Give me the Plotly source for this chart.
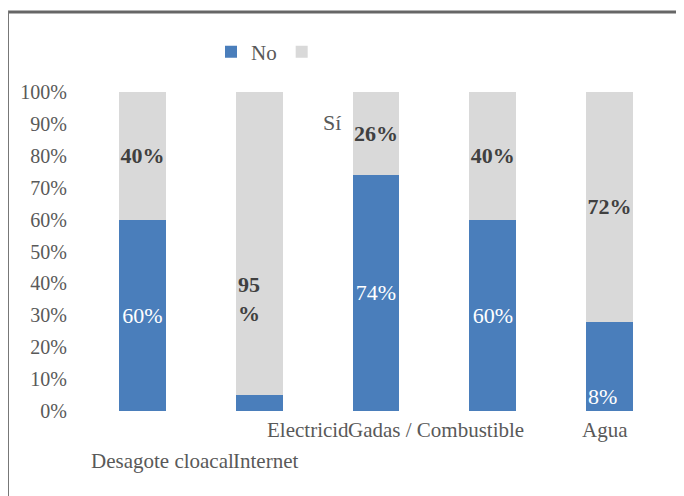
import plotly.graph_objects as go

categories = ["Desagote cloacal", "Internet", "Electricidad", "Gas / Combustible", "Agua"]
no_vals = [60, 5, 74, 60, 28]
si_vals = [40, 95, 26, 40, 72]
no_text = ["60%", "", "74%", "60%", ""]
si_text = ["40%", "", "26%", "40%", "72%"]
tick_vals = [0, 10, 20, 30, 40, 50, 60, 70, 80, 90, 100]
tick_text = [f"{v}%" for v in tick_vals]

BLUE = "#4A7EBB"
GREY = "#D9D9D9"
FONT = "Liberation Serif"
TXT = "#595959"

OFF = 8  # page body margin
W, H = 684 - OFF, 496 - OFF
L, R, T, B = 84 - OFF, 16, 92 - OFF, 85
pw, ph = W - L - R, H - T - B


def px(xs):  # screen x -> paper
    return (xs - OFF - L) / pw


def py(ys):  # screen y -> paper
    return (H + OFF - B - ys) / ph


fig = go.Figure()
fig.add_trace(go.Bar(
    x=categories, y=no_vals, name="No", marker=dict(color=BLUE, line=dict(width=0)),
    text=no_text, textposition="inside", insidetextanchor="middle", textangle=0,
    textfont=dict(family=FONT, size=22, color="white"), constraintext="none",
    hovertemplate="%{x}<br>No: %{y}%<extra></extra>",
))
fig.add_trace(go.Bar(
    x=categories, y=si_vals, name=" ", marker=dict(color=GREY, line=dict(width=0)),
    text=[f"<b>{t}</b>" if t else "" for t in si_text], textposition="inside",
    insidetextanchor="middle", textangle=0,
    textfont=dict(family=FONT, size=22, color="#404040"), constraintext="none",
    hovertemplate="%{x}<br>Sí: %{y}%<extra></extra>",
))

cat_font = dict(family=FONT, size=21, color=TXT)
annotations = [
    dict(text="Sí", x=px(332), y=py(122), xref="paper", yref="paper", showarrow=False,
         xanchor="center", yanchor="middle", font=dict(family=FONT, size=22, color=TXT)),
    dict(text="<b>95<br>%</b>", x=categories[1], y=35, xref="x", yref="y", showarrow=False,
         xanchor="left", yanchor="middle", xshift=-23, align="left",
         font=dict(family=FONT, size=22, color="#404040")),
    dict(text="8%", x=categories[4], y=0, xref="x", yref="y", showarrow=False,
         yanchor="bottom", xanchor="left", xshift=-24,
         font=dict(family=FONT, size=22, color="white")),
    dict(text="Electricid", x=px(265), y=py(430), xref="paper", yref="paper", showarrow=False,
         xanchor="left", yanchor="middle", font=cat_font),
    dict(text="Gadas / Combustible", x=px(346), y=py(430), xref="paper", yref="paper",
         showarrow=False, xanchor="left", yanchor="middle", font=cat_font),
    dict(text="Agua", x=px(580), y=py(430), xref="paper", yref="paper", showarrow=False,
         xanchor="left", yanchor="middle", font=cat_font),
    dict(text="Desagote cloacal", x=px(89), y=py(461), xref="paper", yref="paper",
         showarrow=False, xanchor="left", yanchor="middle", font=cat_font),
    dict(text="Internet", x=px(231), y=py(461), xref="paper", yref="paper", showarrow=False,
         xanchor="left", yanchor="middle", font=cat_font),
]

shapes = [
    dict(type="line", xref="paper", yref="paper", x0=px(7), x1=px(700), y0=py(12), y1=py(12),
         line=dict(color="#666666", width=3)),
    dict(type="line", xref="paper", yref="paper", x0=px(8), x1=px(8), y0=py(11), y1=py(520),
         line=dict(color="#777777", width=2)),
]

fig.update_layout(
    width=W, height=H,
    margin=dict(l=L, r=R, t=T, b=B),
    barmode="stack", bargap=0.6,
    paper_bgcolor="white", plot_bgcolor="white",
    font=dict(family=FONT, color=TXT),
    showlegend=True,
    legend=dict(orientation="h", traceorder="normal", x=px(211), y=py(52),
                xanchor="left", yanchor="middle",
                font=dict(family=FONT, size=21, color=TXT),
                itemwidth=30, bgcolor="rgba(0,0,0,0)"),
    xaxis=dict(showticklabels=False, showline=False, showgrid=False, ticks="",
               categoryorder="array", categoryarray=categories),
    yaxis=dict(range=[0, 100], tickvals=tick_vals, ticktext=tick_text, showgrid=False,
               showline=False, ticks="", zeroline=False,
               tickfont=dict(family=FONT, size=20, color=TXT), ticklabelstandoff=16),
    annotations=annotations, shapes=shapes,
)

fig.write_html("out.html")
